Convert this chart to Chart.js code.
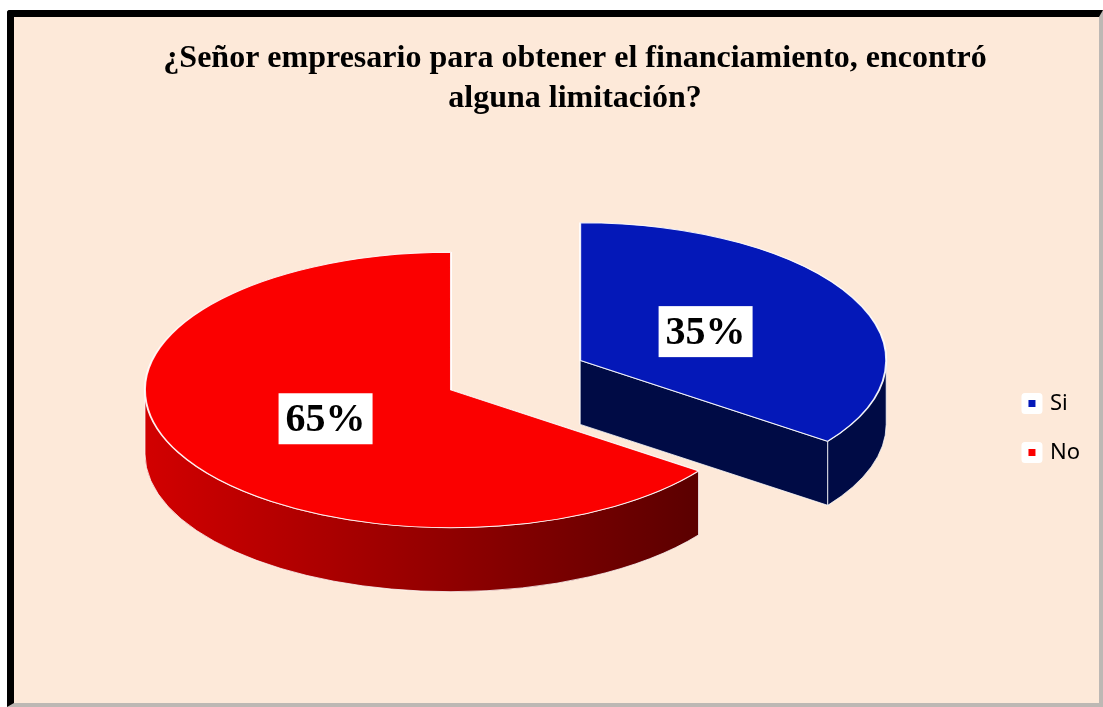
<!DOCTYPE html>
<html>
<head>
<meta charset="utf-8">
<script src="https://cdn.jsdelivr.net/npm/chart.js@4/dist/chart.umd.min.js"></script>
<style>
    html, body {
        margin: 0;
        padding: 0;
        background: #ffffff;
    }

    #frame {
        position: absolute;
        left: 7px;
        top: 10px;
        width: 1085px;
        height: 686px;
        background: #fde9d9;
        border-left: 7px solid #000000;
        border-top: 7px solid #000000;
        border-right: 4px solid #bdb8b4;
        border-bottom: 4px solid #bdb8b4;
        border-top-left-radius: 3px;
        overflow: hidden;
    }

    #chart {
        position: absolute;
        left: 0;
        top: 0;
    }
</style>
</head>
<body>
<div id="frame">
    <canvas id="chart" width="1095" height="686"></canvas>
</div>
<script>
const titleLines = [
    "¿Señor empresario para obtener el financiamiento, encontró",
    "alguna limitación?"
];
const categories = ["Si", "No"];
const percentages = [35, 65];

// draws the side walls under each slice, then the slice top squashed into an ellipse
const pie3d = {
    id: "pie3d",
    beforeDatasetsDraw(chart, args, opts) {
        const ctx = chart.ctx;
        const meta = chart.getDatasetMeta(0);
        const area = chart.chartArea;
        const baseX = (area.left + area.right) / 2 + opts.shiftX;
        const baseY = (area.top + area.bottom) / 2 + opts.shiftY;
        const k = opts.tilt;
        const h = opts.depth;
        const values = chart.data.datasets[0].data;
        const total = values.reduce((a, b) => a + b, 0);

        const slices = meta.data.map((arc, i) => {
            const p = arc.getProps(["x", "y", "startAngle", "endAngle", "outerRadius"], true);
            const mid = (p.startAngle + p.endAngle) / 2;
            const e = opts.explode[i] || 0;
            return {
                arc: arc,
                p: p,
                i: i,
                mid: mid,
                ox: baseX + e * Math.cos(mid),
                oy: baseY + k * e * Math.sin(mid)
            };
        });

        slices.sort((a, b) => Math.sin(a.mid) - Math.sin(b.mid));

        for (let s of slices) {
            drawSides(ctx, s, k, h, opts.sides[s.i]);

            ctx.save();
            ctx.translate(s.ox, s.oy);
            ctx.scale(1, k);
            ctx.translate(-s.p.x, -s.p.y);
            s.arc.draw(ctx);
            ctx.restore();
        }

        for (let s of slices) {
            const r = opts.labelRadius * s.p.outerRadius;
            const lx = s.ox + r * Math.cos(s.mid);
            const ly = s.oy + k * r * Math.sin(s.mid);
            const text = Math.round(values[s.i] / total * 100) + "%";

            ctx.save();
            ctx.font = "bold 40px 'Liberation Serif', 'Times New Roman', serif";
            const w = ctx.measureText(text).width + 14;
            const bh = 51;
            ctx.fillStyle = "#ffffff";
            ctx.fillRect(lx - w / 2, ly - bh / 2, w, bh);
            ctx.fillStyle = "#000000";
            ctx.textAlign = "center";
            ctx.textBaseline = "middle";
            ctx.fillText(text, lx, ly + 2);
            ctx.restore();
        }

        return false;
    }
};

function drawSides(ctx, s, k, h, side) {
    const a0 = s.p.startAngle;
    const a1 = s.p.endAngle;
    const R = s.p.outerRadius;

    const grad = ctx.createLinearGradient(s.ox - R, 0, s.ox + R, 0);
    grad.addColorStop(0, side.from);
    grad.addColorStop(1, side.to);

    ctx.save();
    ctx.fillStyle = grad;
    ctx.strokeStyle = "rgba(255,255,255,0.75)";
    ctx.lineWidth = 1;
    ctx.lineJoin = "round";

    for (let a of [a0, a1]) {
        const x = s.ox + R * Math.cos(a);
        const y = s.oy + k * R * Math.sin(a);
        ctx.beginPath();
        ctx.moveTo(s.ox, s.oy);
        ctx.lineTo(x, y);
        ctx.lineTo(x, y + h);
        ctx.lineTo(s.ox, s.oy + h);
        ctx.closePath();
        ctx.fill();
        ctx.stroke();
    }

    for (let n = -1; n <= 1; n++) {
        const lo = Math.max(a0, 2 * Math.PI * n);
        const hi = Math.min(a1, 2 * Math.PI * n + Math.PI);
        if (hi <= lo) {
            continue;
        }
        ctx.beginPath();
        ctx.ellipse(s.ox, s.oy, R, k * R, 0, lo, hi);
        ctx.ellipse(s.ox, s.oy + h, R, k * R, 0, hi, lo, true);
        ctx.closePath();
        ctx.fill();
        ctx.stroke();
    }

    ctx.restore();
}

const legendLabels = (chart) => {
    const items = Chart.overrides.pie.plugins.legend.labels.generateLabels(chart);
    for (let item of items) {
        item.strokeStyle = "#ffffff";
        item.lineWidth = 7;
        item.lineJoin = "round";
    }
    return items;
};

new Chart(document.querySelector("#chart"), {
    type: "pie",
    data: {
        labels: categories,
        datasets: [
            {
                data: percentages,
                backgroundColor: ["#0418b8", "#fb0000"],
                borderColor: "rgba(255,255,255,0.9)",
                borderWidth: 2,
                radius: 306
            }
        ]
    },
    plugins: [pie3d],
    options: {
        responsive: false,
        animation: false,
        devicePixelRatio: 1,
        layout: {
            padding: { left: 46, right: 19, top: 0, bottom: 0 }
        },
        plugins: {
            title: {
                display: true,
                text: titleLines,
                color: "#000000",
                font: {
                    family: "'Liberation Serif', 'Times New Roman', serif",
                    size: 32,
                    weight: "bold",
                    lineHeight: 1.25
                },
                padding: { top: 22, bottom: 34 }
            },
            legend: {
                position: "right",
                fullSize: false,
                labels: {
                    color: "#000000",
                    boxWidth: 14,
                    boxHeight: 14,
                    padding: 27,
                    font: { family: "'Noto Sans', sans-serif", size: 22 },
                    generateLabels: legendLabels
                }
            },
            tooltip: { enabled: false },
            pie3d: {
                tilt: 0.45,
                depth: 64,
                shiftX: -78,
                shiftY: -38,
                explode: [145, 0],
                labelRadius: 0.46,
                sides: [
                    { from: "#000b45", to: "#000b45" },
                    { from: "#d20000", to: "#4e0000" }
                ]
            }
        }
    }
});
</script>
</body>
</html>
